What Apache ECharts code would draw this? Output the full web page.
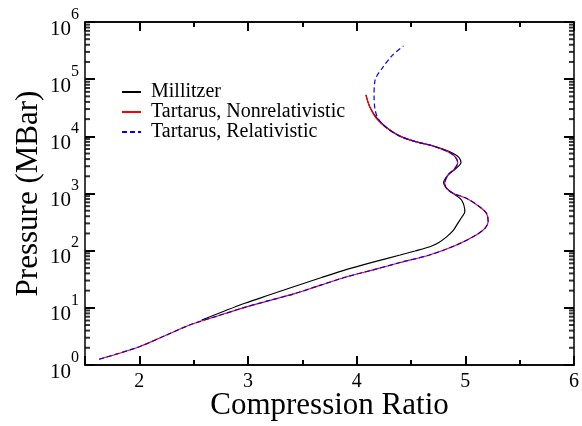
<!DOCTYPE html>
<html>
<head>
<meta charset="utf-8">
<script src="https://cdn.jsdelivr.net/npm/echarts@6/dist/echarts.min.js"></script>
<style>
  html, body { margin: 0; padding: 0; background: #ffffff; }
  #chart { width: 582px; height: 426px; }
</style>
</head>
<body>
<div id="chart"></div>
<script>
// Hugoniot curves: compression ratio vs pressure
const seriesNames = ['Millitzer', 'Tartarus, Nonrelativistic', 'Tartarus, Relativistic'];

const millitzerRatio = [2.574, 2.97, 3.2, 3.42, 3.67, 3.91, 4.15, 4.40, 4.536, 4.674, 4.757, 4.83,
  4.885, 4.93, 4.968, 4.995, 4.965, 4.89, 4.83, 4.80, 4.84, 4.91, 4.96, 4.94, 4.89, 4.80, 4.68,
  4.55, 4.41, 4.29, 4.19, 4.12, 4.085];
const millitzerPressure = [6.1, 12.0, 16.9, 23.4, 33.6, 47, 63, 84, 98.6, 117, 139, 176,
  221, 300, 388, 480, 770, 1000, 1230, 1550, 2100, 2700, 3500, 4300, 5000, 5900, 7000,
  8000, 9900, 13600, 20500, 33000, 53000];

const nonrelRatio = [1.63, 2.0, 2.25, 2.48, 2.72, 2.97, 3.2, 3.42, 3.67, 3.91, 4.15, 4.40, 4.67, 4.92,
  5.10, 5.18, 5.21, 5.195, 5.13, 5.01, 4.89, 4.83, 4.81, 4.84, 4.90, 4.93, 4.91, 4.87, 4.79, 4.67,
  4.54, 4.40, 4.28, 4.18, 4.12, 4.085];
const nonrelPressure = [1.26, 2.09, 3.35, 5.15, 7.2, 10.2, 13.5, 17.5, 25, 35, 46, 62, 84, 126,
  188, 246, 321, 450, 588, 823, 1000, 1200, 1500, 2100, 2700, 3500, 4300, 5000, 5900, 7050,
  8100, 10000, 13800, 20700, 33000, 53000];

const relRatio = [1.63, 2.0, 2.25, 2.48, 2.72, 2.97, 3.2, 3.42, 3.67, 3.91, 4.15, 4.40, 4.67, 4.92,
  5.10, 5.18, 5.21, 5.195, 5.13, 5.01, 4.89, 4.83, 4.81, 4.84, 4.90, 4.93, 4.91, 4.87, 4.79, 4.67,
  4.54, 4.40, 4.28, 4.20, 4.17, 4.16, 4.17, 4.245, 4.33, 4.43];
const relPressure = [1.26, 2.09, 3.35, 5.15, 7.2, 10.2, 13.5, 17.5, 25, 35, 46, 62, 84, 126,
  188, 246, 321, 450, 588, 823, 1000, 1200, 1500, 2100, 2700, 3500, 4300, 5000, 5900, 7050,
  8100, 10000, 13800, 20000, 29000, 49500, 97000, 165000, 263000, 380000];

const xTickLabels = [2, 3, 4, 5, 6];
const yTickLabels = [1, 10, 100, 1000, 10000, 100000, 1000000];
// 2..9 within every decade
const yMinorTicks = [];
for (let d = 0; d < 6; d++) {
  for (let m = 2; m <= 9; m++) yMinorTicks.push(m * Math.pow(10, d));
}

const pairs = (xs, ys) => xs.map((x, i) => [x, ys[i]]);

const FONT = 'Liberation Serif';
const X_MIN = 1.5, X_MAX = 6, Y_MIN = 1, Y_MAX = 1000000;

// x axes: major ticks (nice interval 1) and minor ticks (interval 0.5), bottom and top
function xAxisDef(position, minor, withLabels) {
  const ax = {
    type: 'value', gridIndex: 0, position: position,
    min: X_MIN, max: X_MAX,
    axisLine: { show: true, lineStyle: { color: '#000', width: 1.5 } },
    splitLine: { show: false },
    axisTick: { show: true, inside: true, length: minor ? 5 : 9, lineStyle: { color: '#000', width: 2 } },
    axisLabel: withLabels ? {
      show: true, customValues: xTickLabels, margin: 7,
      fontFamily: FONT, fontSize: 20, color: '#000'
    } : { show: false }
  };
  if (minor) ax.interval = 0.5; else ax.splitNumber = 5;
  return ax;
}

function yAxisDef(position, withLabels) {
  return {
    type: 'log', logBase: 10, gridIndex: 0, position: position,
    min: Y_MIN, max: Y_MAX, splitNumber: 6,
    axisLine: { show: true, lineStyle: { color: '#000', width: 1.5 } },
    splitLine: { show: false },
    axisTick: { show: true, inside: true, length: 10, lineStyle: { color: '#000', width: 2 } },
    axisLabel: withLabels ? {
      show: true, customValues: yTickLabels, margin: 6,
      padding: [14, 0, 0, 0],
      formatter: v => '{b|10}{s|' + Math.round(Math.log10(v)) + '}',
      rich: {
        b: { fontFamily: FONT, fontSize: 21, color: '#000', verticalAlign: 'bottom', lineHeight: 21 },
        s: { fontFamily: FONT, fontSize: 16, color: '#000', verticalAlign: 'bottom', lineHeight: 16,
             padding: [0, 0, 17, 0] }
      }
    } : { show: false }
  };
}

// short minor tick marks on the left and right frame of the log axis
function minorTickSeries(xEdge, offsetX) {
  return {
    type: 'scatter', xAxisIndex: 0, yAxisIndex: 0,
    data: yMinorTicks.map(v => [xEdge, v]),
    symbol: 'rect', symbolSize: [5, 2], symbolOffset: [offsetX, 0],
    itemStyle: { color: '#000' }, clip: false, silent: true, z: 5
  };
}

const chart = echarts.init(document.getElementById('chart'), null, { renderer: 'canvas' });

chart.setOption({
  animation: false,
  backgroundColor: '#ffffff',
  grid: { left: 85, right: 7, top: 22, bottom: 61, containLabel: false },
  legend: {
    orient: 'vertical', left: 116, top: 77,
    itemWidth: 19, itemHeight: 4, itemGap: 0,
    data: seriesNames,
    formatter: name => ' ' + name,
    itemStyle: { opacity: 0 },
    textStyle: { fontFamily: FONT, fontSize: 20, color: '#000' }
  },
  xAxis: [
    Object.assign(xAxisDef('bottom', false, true), {
      name: 'Compression Ratio', nameLocation: 'middle', nameGap: 25, nameMoveOverlap: false,
      nameTextStyle: { fontFamily: FONT, fontSize: 31, color: '#000' }
    }),
    xAxisDef('bottom', true, false),
    xAxisDef('top', false, false),
    xAxisDef('top', true, false)
  ],
  yAxis: [
    Object.assign(yAxisDef('left', true), {
      name: 'Pressure (MBar)', nameLocation: 'middle', nameGap: 41, nameMoveOverlap: false,
      nameTextStyle: { fontFamily: FONT, fontSize: 31, color: '#000' }
    }),
    yAxisDef('right', false)
  ],
  series: [
    {
      name: seriesNames[0], type: 'line', xAxisIndex: 0, yAxisIndex: 0,
      data: pairs(millitzerRatio, millitzerPressure),
      showSymbol: false, smooth: 0.3,
      lineStyle: { color: '#000000', width: 1.2 }, itemStyle: { color: '#000000' }
    },
    {
      name: seriesNames[1], type: 'line', xAxisIndex: 0, yAxisIndex: 0,
      data: pairs(nonrelRatio, nonrelPressure),
      showSymbol: false, smooth: 0.3,
      lineStyle: { color: '#ff0000', width: 1.2 }, itemStyle: { color: '#ff0000' }
    },
    {
      name: seriesNames[2], type: 'line', xAxisIndex: 0, yAxisIndex: 0,
      data: pairs(relRatio, relPressure),
      showSymbol: false, smooth: 0.3,
      lineStyle: { color: '#0000ff', width: 1.2, type: [5, 3] }, itemStyle: { color: '#0000ff' }
    },
    minorTickSeries(X_MIN, 2.5),
    minorTickSeries(X_MAX, -2.5)
  ]
});
</script>
</body>
</html>
